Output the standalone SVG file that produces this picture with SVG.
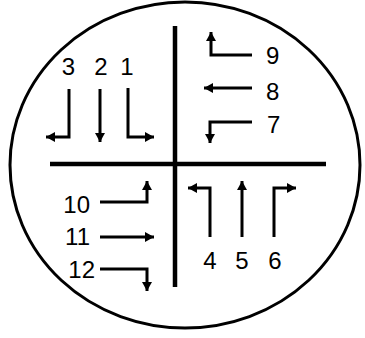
<svg xmlns="http://www.w3.org/2000/svg" width="365" height="338" viewBox="0 0 365 338">
<style>
.arr{fill:none;stroke:#000;stroke-width:3;marker-end:url(#ah)}
.lbl{font-family:"Liberation Sans",Arial,sans-serif;font-size:24px;fill:#000}
.axis{stroke:#000;stroke-width:4.5}
</style>
<defs>
<marker id="ah" markerUnits="userSpaceOnUse" markerWidth="10" markerHeight="12" viewBox="0 0 10 12" refX="9" refY="6" orient="auto">
<path d="M0,1 L9,6 L0,11 Z" fill="#000"/>
</marker>
</defs>
<g id="frame">
<ellipse cx="185" cy="165" rx="175" ry="163" fill="#fff" stroke="#000" stroke-width="3"/>
<line class="axis" x1="175" y1="26" x2="175" y2="287"/>
<line class="axis" x1="50" y1="164" x2="326" y2="164"/>
</g>
<g id="connectors">
<path id="a3" class="arr" d="M69,89 V137 H46"/>
<path id="a2" class="arr" d="M100,89 V142"/>
<path id="a1" class="arr" d="M128,88 V137 H154"/>
<path id="a9" class="arr" d="M252,55 H211 V32"/>
<path id="a8" class="arr" d="M252,88 H204"/>
<path id="a7" class="arr" d="M252,122 H210 V143"/>
<path id="a10" class="arr" d="M100,202 H147 V181"/>
<path id="a11" class="arr" d="M100,237 H154"/>
<path id="a12" class="arr" d="M100,269 H147 V291"/>
<path id="a4" class="arr" d="M210,237 V188 H188"/>
<path id="a5" class="arr" d="M242,237 V181"/>
<path id="a6" class="arr" d="M274,237 V188 H296"/>
</g>
<g id="labels" class="lbl">
<g id="n3"><text x="68.5" y="75" text-anchor="middle">3</text></g>
<g id="n2"><text x="101" y="75" text-anchor="middle">2</text></g>
<g id="n1"><text x="127" y="75" text-anchor="middle">1</text></g>
<g id="n9"><text x="266" y="64">9</text></g>
<g id="n8"><text x="266" y="100">8</text></g>
<g id="n7"><text x="267" y="133">7</text></g>
<g id="n10"><text x="90" y="213" text-anchor="end">10</text></g>
<g id="n11"><text x="90" y="245" text-anchor="end">11</text></g>
<g id="n12"><text x="95" y="278" text-anchor="end">12</text></g>
<g id="n4"><text x="210" y="269" text-anchor="middle">4</text></g>
<g id="n5"><text x="242" y="269" text-anchor="middle">5</text></g>
<g id="n6"><text x="275" y="269" text-anchor="middle">6</text></g>
</g>
</svg>
